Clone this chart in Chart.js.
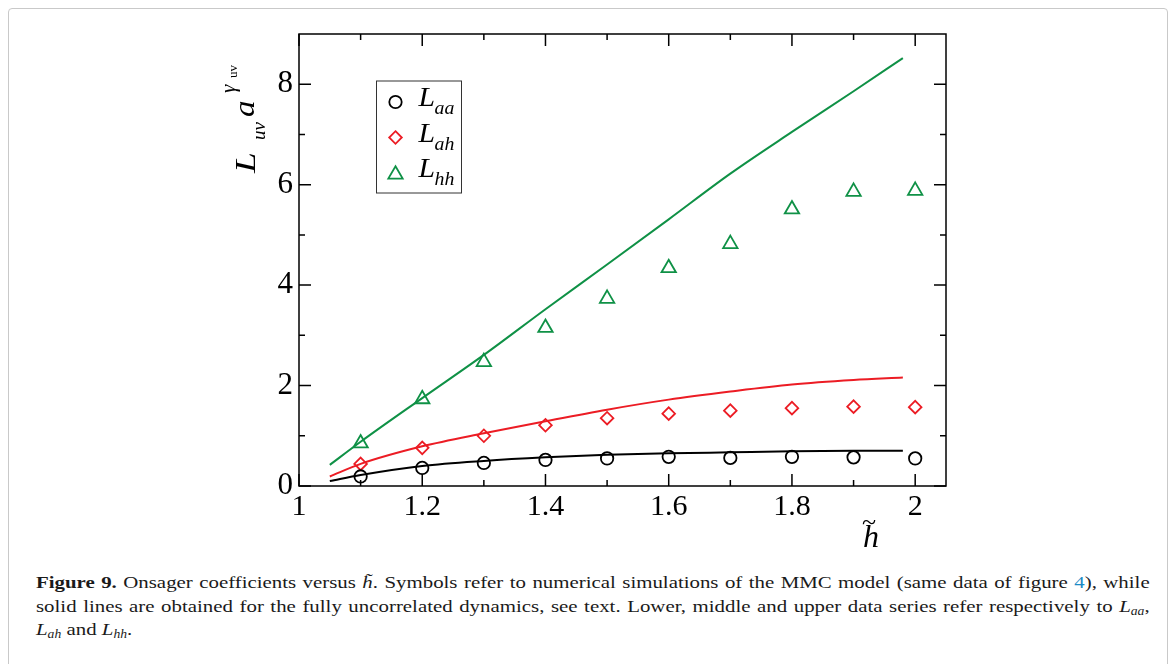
<!DOCTYPE html>
<html>
<head>
<meta charset="utf-8">
<script src="https://cdn.jsdelivr.net/npm/chart.js"></script>
<style>
  html, body { margin: 0; padding: 0; background: #fff; }
  #wrap { position: relative; width: 1176px; height: 664px; overflow: hidden; }
  #frame { position: absolute; left: 8px; top: 8px; width: 1158px; height: 680px;
           border: 1px solid #c9c9c9; border-radius: 4px; }
  #chartBox { position: absolute; left: 0; top: 0; width: 1176px; height: 560px; }
  #caption { position: absolute; left: 36px; top: 571px; width: 939px;
             transform: scaleX(1.186); transform-origin: 0 0;
             font-family: "Liberation Serif", serif; font-size: 17.6px; line-height: 23.5px; color: #1a1a1a; }
  #caption .j { white-space: nowrap; text-align: justify; text-align-last: justify; }
  #caption .lnk { color: #1a8ac6; }
  #caption sub { font-size: 11.5px; vertical-align: -3px; line-height: 0; }
</style>
</head>
<body>
<div id="wrap">
  <div id="frame"></div>
  <div id="chartBox"><canvas id="grafico" width="1176" height="560"></canvas></div>
  <div id="caption">
    <div class="j"><b>Figure 9.</b> Onsager coefficients versus <i>h̃</i>. Symbols refer to numerical simulations of the MMC model (same data of figure <span class="lnk">4</span>), while</div>
    <div class="j">solid lines are obtained for the fully uncorrelated dynamics, see text. Lower, middle and upper data series refer respectively to <i>L<sub>aa</sub></i>,</div>
    <div><i>L<sub>ah</sub></i> and <i>L<sub>hh</sub></i>.</div>
  </div>
</div>
<script>
// simulaciones MMC (simbolos)
const hSim = [1.1, 1.2, 1.3, 1.4, 1.5, 1.6, 1.7, 1.8, 1.9, 2.0];
const LaaSim = [0.19, 0.36, 0.46, 0.52, 0.55, 0.58, 0.56, 0.58, 0.57, 0.55];
const LahSim = [0.44, 0.76, 1.00, 1.21, 1.35, 1.44, 1.50, 1.55, 1.58, 1.57];
const LhhSim = [0.85, 1.73, 2.47, 3.15, 3.73, 4.34, 4.82, 5.51, 5.86, 5.88];

// dinamica no correlacionada (lineas)
const hLinea = [1.05, 1.1, 1.2, 1.3, 1.4, 1.5, 1.6, 1.7, 1.8, 1.9, 1.98];
const LaaLinea = [0.10, 0.22, 0.40, 0.50, 0.57, 0.62, 0.65, 0.67, 0.69, 0.70, 0.70];
const LahLinea = [0.19, 0.44, 0.79, 1.05, 1.29, 1.52, 1.72, 1.88, 2.02, 2.11, 2.16];
const LhhLinea = [0.42, 0.88, 1.75, 2.61, 3.52, 4.41, 5.31, 6.22, 7.05, 7.86, 8.52];

// ticks
const xMayor = [1, 1.2, 1.4, 1.6, 1.8, 2];
const xMenor = [1.1, 1.3, 1.5, 1.7, 1.9];
const yMayor = [0, 2, 4, 6, 8];
const yMenor = [1, 3, 5, 7];

const NEGRO = '#000000';
const ROJO = '#ec1c24';
const VERDE = '#0f9146';
const SERIF = '"Liberation Serif", "DejaVu Serif", serif';

function pares(xs, ys) {
    return xs.map((x, i) => ({ x: x, y: ys[i] }));
}

function linea(label, xs, ys, color) {
    return {
        label: label,
        data: pares(xs, ys),
        showLine: true,
        borderColor: color,
        borderWidth: 2,
        pointRadius: 0,
        cubicInterpolationMode: 'monotone',
        order: 2
    };
}

function simbolos(label, ys, color, estilo, radio) {
    return {
        label: label,
        data: pares(hSim, ys),
        showLine: false,
        borderColor: color,
        backgroundColor: 'rgba(0,0,0,0)',
        borderWidth: 1.8,
        pointStyle: estilo,
        pointRadius: radio,
        pointHoverRadius: radio,
        order: 1
    };
}

// marco y ticks hacia adentro en los cuatro lados
const marcoTicks = {
    id: 'marcoTicks',
    afterDraw(chart) {
        const ctx = chart.ctx, a = chart.chartArea;
        const sx = chart.scales.x, sy = chart.scales.y;
        ctx.save();
        ctx.strokeStyle = '#000';
        ctx.lineWidth = 1.5;
        ctx.strokeRect(a.left, a.top, a.right - a.left, a.bottom - a.top);
        ctx.beginPath();
        const marcaX = (v, len) => {
            const px = sx.getPixelForValue(v);
            ctx.moveTo(px, a.bottom); ctx.lineTo(px, a.bottom - len);
            ctx.moveTo(px, a.top); ctx.lineTo(px, a.top + len);
        };
        const marcaY = (v, len) => {
            const py = sy.getPixelForValue(v);
            ctx.moveTo(a.left, py); ctx.lineTo(a.left + len, py);
            ctx.moveTo(a.right, py); ctx.lineTo(a.right - len, py);
        };
        xMayor.forEach(v => marcaX(v, 12));
        xMenor.forEach(v => marcaX(v, 6));
        yMayor.forEach(v => marcaY(v, 12));
        yMenor.forEach(v => marcaY(v, 6));
        ctx.stroke();
        ctx.restore();
    }
};

function simbolo(ctx, estilo, x, y, r) {
    ctx.beginPath();
    if (estilo === 'circle') {
        ctx.arc(x, y, r, 0, Math.PI * 2);
    } else if (estilo === 'rectRot') {
        ctx.moveTo(x, y - r); ctx.lineTo(x + r, y); ctx.lineTo(x, y + r); ctx.lineTo(x - r, y);
        ctx.closePath();
    } else {
        ctx.moveTo(x, y - r);
        ctx.lineTo(x + r * Math.sin(2 * Math.PI / 3), y - r * Math.cos(2 * Math.PI / 3));
        ctx.lineTo(x + r * Math.sin(4 * Math.PI / 3), y - r * Math.cos(4 * Math.PI / 3));
        ctx.closePath();
    }
    ctx.stroke();
}

// texto estirado en horizontal (la fuente original es mas ancha)
function textoAncho(ctx, txt, x, y, fuente, escala) {
    ctx.save();
    ctx.font = fuente;
    ctx.translate(x, y);
    ctx.scale(escala, 1);
    ctx.fillText(txt, 0, 0);
    ctx.restore();
}

// leyenda con subindices y titulos de los ejes
const textos = {
    id: 'textos',
    afterDraw(chart) {
        const ctx = chart.ctx, a = chart.chartArea;
        ctx.save();

        // leyenda
        const bx = a.left + 77.5, by = a.top + 47;
        ctx.strokeStyle = '#333';
        ctx.lineWidth = 1;
        ctx.strokeRect(bx, by, 85, 112);
        const filas = [
            { sub: 'aa', color: NEGRO, estilo: 'circle', r: 6.2 },
            { sub: 'ah', color: ROJO, estilo: 'rectRot', r: 6.3 },
            { sub: 'hh', color: VERDE, estilo: 'triangle', r: 8.3 }
        ];
        filas.forEach((f, i) => {
            const base = by + 25 + i * 35.5;
            ctx.strokeStyle = f.color;
            ctx.lineWidth = 1.8;
            simbolo(ctx, f.estilo, bx + 19, base - 4 + (f.estilo === 'triangle' ? 1.5 : 0), f.r);
            ctx.fillStyle = '#000';
            ctx.textBaseline = 'alphabetic';
            ctx.textAlign = 'left';
            textoAncho(ctx, 'L', bx + 42, base, 'italic 27px ' + SERIF, 1.1);
            textoAncho(ctx, f.sub, bx + 58, base + 8, 'italic 18px ' + SERIF, 1.1);
        });

        // titulo eje y: L_uv a^(gamma_uv)
        ctx.translate(a.left - 44, a.top + 139);
        ctx.rotate(-Math.PI / 2);
        ctx.fillStyle = '#000';
        textoAncho(ctx, 'L', 0, 0, 'italic 30px ' + SERIF, 1.25);
        textoAncho(ctx, 'uv', 33, 10, 'italic 19px ' + SERIF, 1.0);
        textoAncho(ctx, 'a', 56, -1, 'italic 30px ' + SERIF, 1.1);
        textoAncho(ctx, 'γ', 80, -20, 'italic 20px ' + SERIF, 1.05);
        textoAncho(ctx, 'uv', 95, -18, '13px ' + SERIF, 1.0);
        ctx.setTransform(1, 0, 0, 1, 0, 0);

        // titulo eje x: h tilde
        ctx.font = 'italic 32px ' + SERIF;
        ctx.textAlign = 'left';
        ctx.fillText('h', a.left + 564, a.bottom + 61);
        ctx.font = '26px ' + SERIF;
        ctx.fillText('~', a.left + 563, a.bottom + 44);
        ctx.restore();
    }
};

new Chart(document.getElementById('grafico'), {
    type: 'scatter',
    data: {
        datasets: [
            linea('Laa teoria', hLinea, LaaLinea, NEGRO),
            linea('Lah teoria', hLinea, LahLinea, ROJO),
            linea('Lhh teoria', hLinea, LhhLinea, VERDE),
            simbolos('Laa', LaaSim, NEGRO, 'circle', 6.2),
            simbolos('Lah', LahSim, ROJO, 'rectRot', 6.3),
            simbolos('Lhh', LhhSim, VERDE, 'triangle', 8.3)
        ]
    },
    options: {
        responsive: false,
        animation: false,
        events: [],
        layout: { padding: { left: 0, top: 34, right: 230, bottom: 0 } },
        plugins: { legend: { display: false }, tooltip: { enabled: false } },
        scales: {
            x: {
                type: 'linear',
                min: 1,
                max: 2.05,
                grid: { display: false },
                border: { display: false },
                afterBuildTicks: s => { s.ticks = xMayor.map(v => ({ value: v })); },
                afterFit: s => { s.height = 74; },
                ticks: {
                    color: '#000',
                    padding: -5,
                    maxRotation: 0,
                    font: { family: SERIF, size: 30 },
                    callback: v => String(Math.round(v * 10) / 10)
                }
            },
            y: {
                type: 'linear',
                min: 0,
                max: 9,
                grid: { display: false },
                border: { display: false },
                afterBuildTicks: s => { s.ticks = yMayor.map(v => ({ value: v })); },
                afterFit: s => { s.width = 299; },
                ticks: {
                    color: '#000',
                    padding: -2,
                    font: { family: SERIF, size: 31 },
                    callback: v => String(v)
                }
            }
        }
    },
    plugins: [marcoTicks, textos]
});
</script>
</body>
</html>
